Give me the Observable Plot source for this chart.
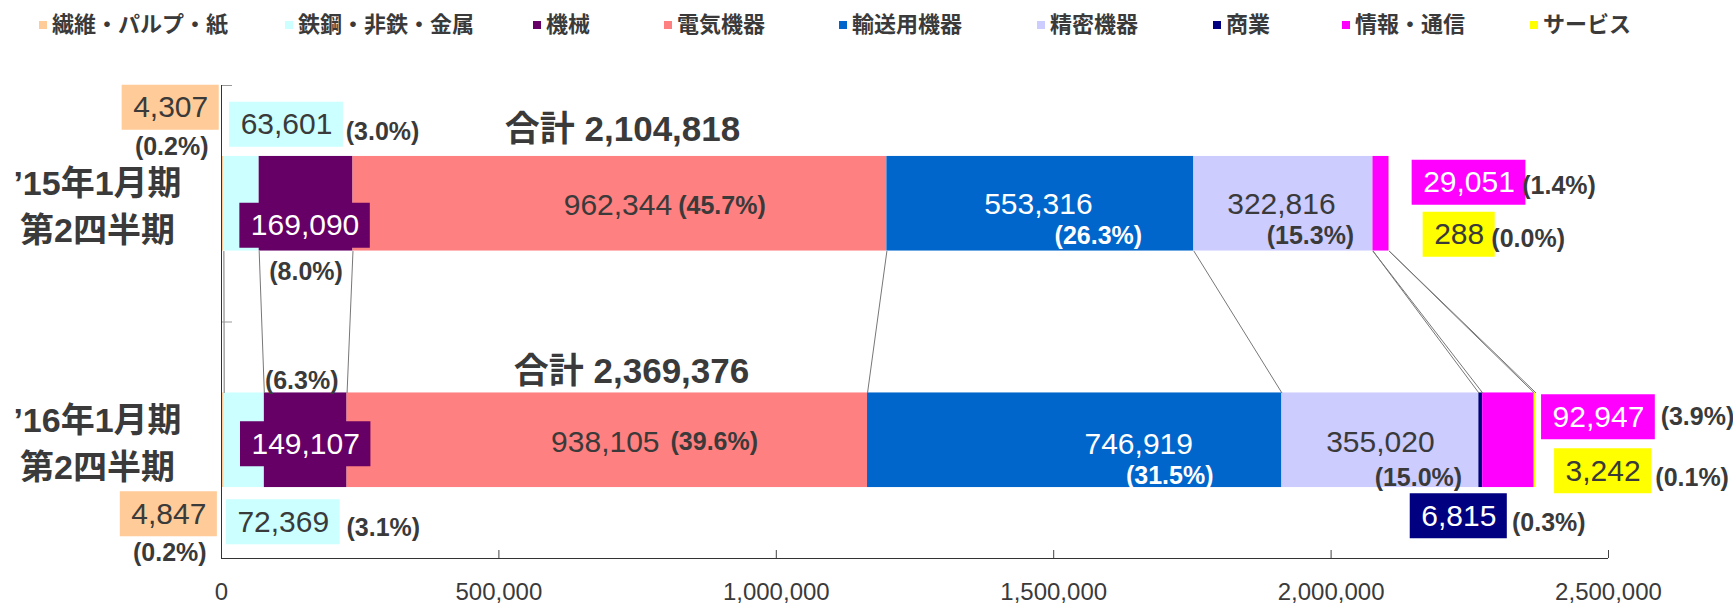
<!DOCTYPE html>
<html>
<head>
<meta charset="utf-8">
<script src="https://cdn.jsdelivr.net/npm/d3@7"></script>
<script src="https://cdn.jsdelivr.net/npm/@observablehq/plot@0.6"></script>
<style>
  body { margin: 0; background: #fff; }
  #legend { position: relative; width: 1733px; height: 45px; font-family: "Noto Sans CJK JP", sans-serif; font-weight: bold; color: #3a3a3a; }
  .sw { position: absolute; top: 21px; width: 8px; height: 8px; }
  .lt { position: absolute; top: 9px; font-size: 22px; line-height: 27px; white-space: nowrap; }
</style>
</head>
<body>
<div id="legend"></div>
<div id="chart"></div>
<script>
// ---- data ----
const categories = ["繊維・パルプ・紙", "鉄鋼・非鉄・金属", "機械", "電気機器", "輸送用機器", "精密機器", "商業", "情報・通信", "サービス"];
const periods = ["’15年1月期\n第2四半期", "’16年1月期\n第2四半期"];
const values15 = [4307, 63601, 169090, 962344, 553316, 322816, 0, 29051, 288];
const values16 = [4847, 72369, 149107, 938105, 746919, 355020, 6815, 92947, 3242];
const pct15 = [0.2, 3.0, 8.0, 45.7, 26.3, 15.3, null, 1.4, 0.0];
const pct16 = [0.2, 3.1, 6.3, 39.6, 31.5, 15.0, 0.3, 3.9, 0.1];
const totals = [2104818, 2369376];
const xTicks = [0, 500000, 1000000, 1500000, 2000000, 2500000];

// ---- styles / layout ----
const colors = ["#FFCC99", "#CCFFFF", "#660066", "#FF8080", "#0066CC", "#CCCCFF", "#000080", "#FF00FF", "#FFFF00"];
const legendX = [39, 285, 533, 664, 839, 1037, 1213, 1342, 1530];
const rowY = [0.5, 1.5];
const halfBar = 0.2;
const textColor = "#3a3a3a";
// per label: value dx/dy, pct dx/dy, boxed?, value colour, pct colour
const layout15 = [
  {vdx: -52, vdy: -96, pdx: -51, pdy: -57, box: true, vc: textColor, pc: textColor},
  {vdx: 45, vdy: -79, pdx: 141, pdy: -72, box: true, vc: textColor, pc: textColor},
  {vdx: -1, vdy: 22, pdx: 0, pdy: 68, box: true, vc: "#fff", pc: textColor},
  {vdx: -2, vdy: 2, pdx: 102, pdy: 2, box: false, vc: textColor, pc: textColor},
  {vdx: -2, vdy: 1, pdx: 58, pdy: 32, box: false, vc: "#fff", pc: "#fff"},
  {vdx: -2, vdy: 1, pdx: 27, pdy: 32, box: false, vc: textColor, pc: textColor},
  null,
  {vdx: 88, vdy: -21, pdx: 178, pdy: -18, box: true, vc: "#fff", pc: textColor},
  {vdx: 70, vdy: 31, pdx: 139, pdy: 35, box: true, vc: textColor, pc: textColor}
];
const layout16 = [
  {vdx: -54, vdy: 74, pdx: -53, pdy: 113, box: true, vc: textColor, pc: textColor},
  {vdx: 39, vdy: 82, pdx: 139, pdy: 88, box: true, vc: textColor, pc: textColor},
  {vdx: 0, vdy: 4, pdx: -4, pdy: -59, box: true, vc: "#fff", pc: textColor},
  {vdx: -2, vdy: 2, pdx: 107, pdy: 2, box: false, vc: textColor, pc: textColor},
  {vdx: 64, vdy: 4, pdx: 95, pdy: 36, box: false, vc: "#fff", pc: "#fff"},
  {vdx: 0, vdy: 2, pdx: 38, pdy: 38, box: false, vc: textColor, pc: textColor},
  {vdx: -22, vdy: 76, pdx: 68, pdy: 83, box: true, vc: "#fff", pc: textColor},
  {vdx: 90, vdy: -23, pdx: 189, pdy: -23, box: true, vc: "#fff", pc: textColor},
  {vdx: 68, vdy: 31, pdx: 157, pdy: 38, box: true, vc: textColor, pc: textColor}
];
const totalLayout = [{dx: 401, dy: -74}, {dx: 410, dy: -68}];
const periodDx = -124;

const fmt = d3.format(",");
const numFont = "'Liberation Sans', Arial, sans-serif";
const jpFont = "'Liberation Sans', 'Noto Sans CJK JP', sans-serif";

// legend (HTML, above the SVG)
const legend = document.getElementById("legend");
categories.forEach((c, i) => {
  const sw = document.createElement("div");
  sw.className = "sw"; sw.style.left = legendX[i] + "px"; sw.style.background = colors[i];
  const t = document.createElement("div");
  t.className = "lt"; t.style.left = (legendX[i] + 13) + "px"; t.textContent = c;
  legend.append(sw, t);
});

// table built from arrays
const series = [values15, values16];
const pcts = [pct15, pct16];
const layouts = [layout15, layout16];
const ends = series.map(v => Array.from(d3.cumsum(v)));
const segs = series.flatMap((vals, p) => vals.map((v, i) => ({
  p, i, cat: categories[i], value: v, pct: pcts[p][i],
  x1: ends[p][i] - v, x2: ends[p][i], mid: ends[p][i] - v / 2,
  y1: rowY[p] - halfBar, y2: rowY[p] + halfBar, yc: rowY[p]
})));
const links = categories.map((c, i) => ({x1: ends[0][i], x2: ends[1][i]}));

// text measuring for label boxes
const ctx = document.createElement("canvas").getContext("2d");
ctx.font = "30px 'Liberation Sans'";
const measure = s => ctx.measureText(s).width;

const labelMarks = segs.flatMap(d => {
  const L = layouts[d.p][d.i];
  if (!L) return [];
  const marks = [];
  const txt = fmt(d.value);
  if (L.box) {
    const w = measure(txt) + 22;
    marks.push(Plot.rect([d], {
      x1: "mid", x2: "mid", y1: "yc", y2: "yc", fill: colors[d.i],
      insetLeft: -w / 2, insetRight: -w / 2, insetTop: -22.5, insetBottom: -22.5,
      dx: L.vdx, dy: L.vdy
    }));
  }
  marks.push(Plot.text([d], {
    x: "mid", y: "yc", text: () => txt, dx: L.vdx, dy: L.vdy,
    fill: L.vc, fontSize: 30, fontFamily: numFont
  }));
  if (d.pct != null) {
    marks.push(Plot.text([d], {
      x: "mid", y: "yc", text: dd => "(" + dd.pct.toFixed(1) + "%)", dx: L.pdx, dy: L.pdy,
      fill: L.pc, fontSize: 25, fontWeight: "bold", fontFamily: numFont
    }));
  }
  return marks;
});

const totalMarks = totals.map((t, p) => Plot.text([p], {
  x: () => 0, y: pp => rowY[pp], text: () => "合計 " + fmt(t),
  dx: totalLayout[p].dx, dy: totalLayout[p].dy,
  fontSize: 35, fontWeight: "bold", fontFamily: jpFont, fill: textColor
}));

const chart = Plot.plot({
  width: 1733,
  height: 558,
  marginLeft: 221,
  marginRight: 125,
  marginTop: 40,
  marginBottom: 45,
  x: {domain: [0, 2500000], axis: null},
  y: {domain: [0, 2], reverse: true, axis: null},
  style: {fontFamily: numFont, color: textColor, background: "#fff", overflow: "visible"},
  marks: [
    Plot.rect(segs, {x1: "x1", x2: "x2", y1: "y1", y2: "y2", fill: d => colors[d.i]}),
    Plot.link(links, {x1: "x1", x2: "x2", y1: () => rowY[0] + halfBar, y2: () => rowY[1] - halfBar, stroke: "#777", strokeWidth: 1}),
    Plot.ruleY([0, 1], {x1: () => 0, x2: () => 0, insetRight: -11, stroke: "#999"}),
    Plot.ruleX(xTicks, {y1: () => 2, y2: () => 2, insetBottom: 8, stroke: "#444"}),
    Plot.ruleX([0], {stroke: "#333"}),
    Plot.ruleY([2], {stroke: "#333"}),
    Plot.axisX({ticks: xTicks, tickSize: 0, tickPadding: 24, tickFormat: fmt, fontSize: 24, fill: textColor}),
    Plot.text(periods, {
      x: () => 0, y: (d, i) => rowY[i], text: d => d, dx: periodDx,
      fontSize: 34, fontWeight: "bold", lineHeight: 1.38, fontFamily: jpFont, fill: textColor
    }),
    ...totalMarks,
    ...labelMarks
  ]
});
document.getElementById("chart").append(chart);
</script>
</body>
</html>
